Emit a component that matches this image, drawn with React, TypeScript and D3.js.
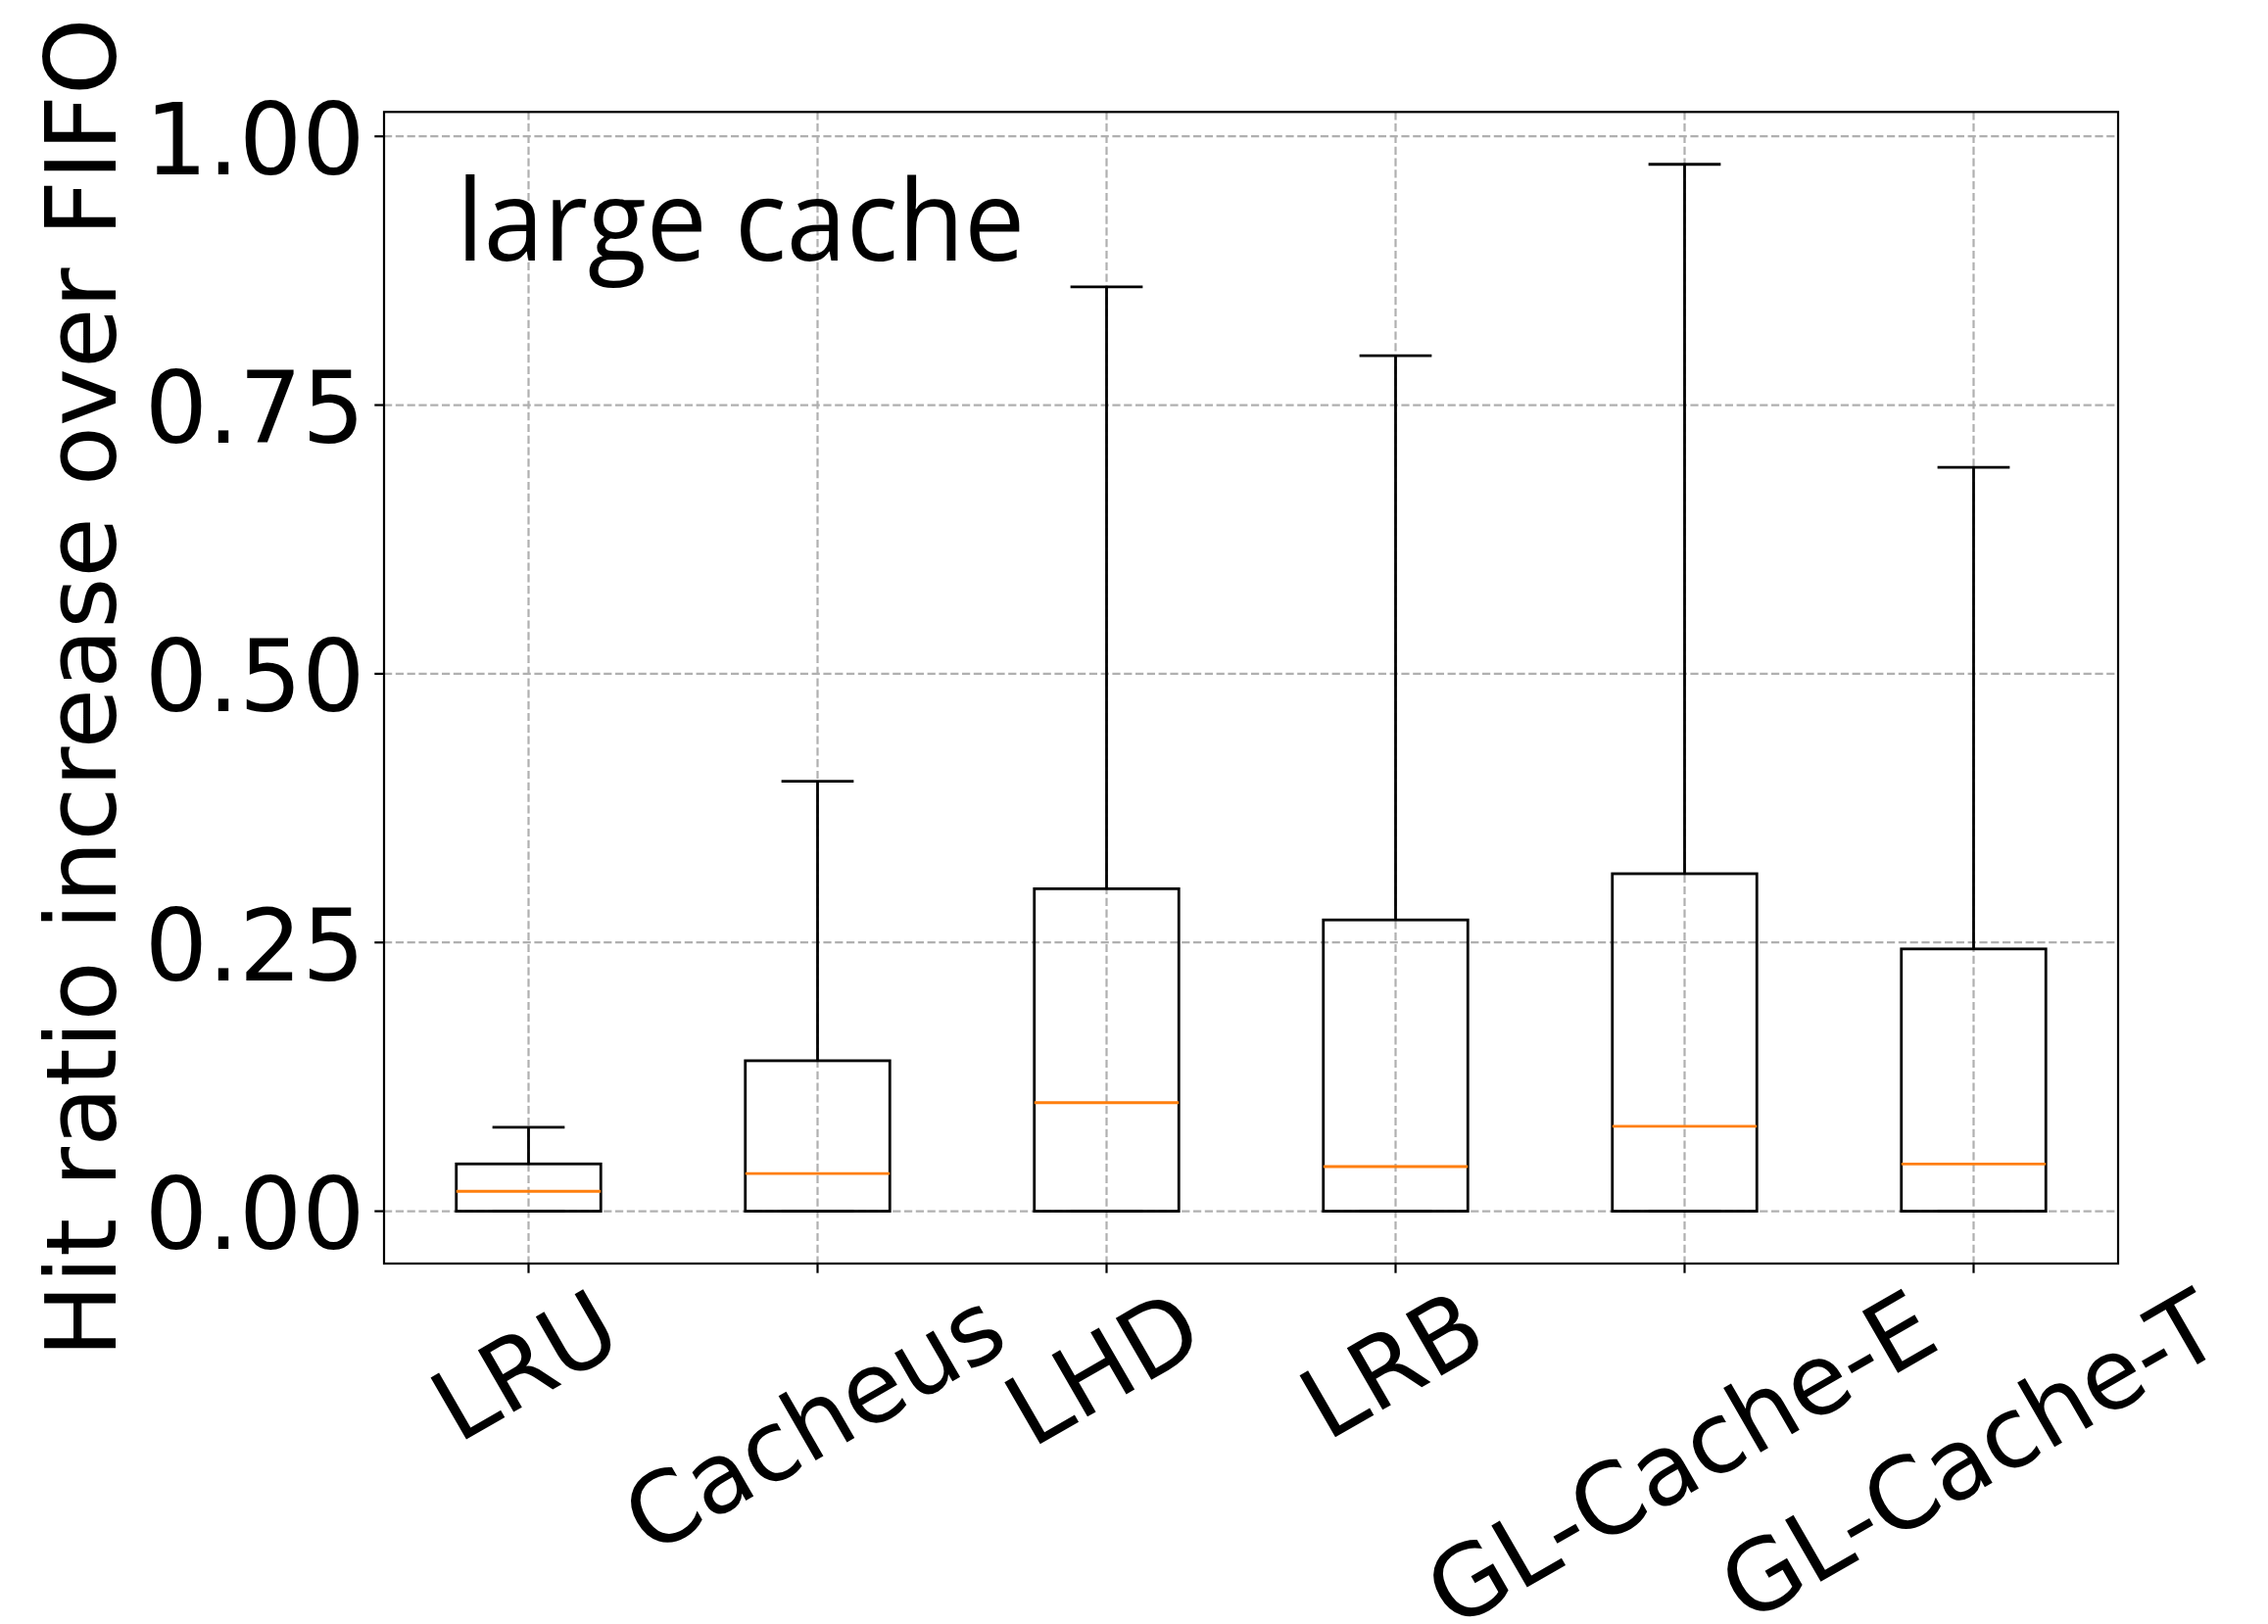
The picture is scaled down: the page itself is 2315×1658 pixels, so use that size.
import React, { useEffect, useRef } from "react";
import * as d3 from "d3";

const categories = ["LRU", "Cacheus", "LHD", "LRB", "GL-Cache-E", "GL-Cache-T"];
const whiskerLow = [0, 0, 0, 0, 0, 0];
const q1 = [0, 0, 0, 0, 0, 0];
const medians = [0.0185, 0.035, 0.101, 0.0415, 0.079, 0.044];
const q3 = [0.044, 0.14, 0.3, 0.271, 0.314, 0.244];
const whiskerHigh = [0.078, 0.4, 0.86, 0.796, 0.974, 0.692];
const yTicks = [0, 0.25, 0.5, 0.75, 1.0];
const yLabel = "Hit ratio increase over FIFO";
const annotation = "large cache";

const W = 2315;
const H = 1658;
const PLOT = { left: 392, right: 2162, top: 114.3, bottom: 1290 };
const TICK = 9.7;
const PAD = 9.7;
const FONT = "DejaVu Sans";

export default function App() {
  const ref = useRef<SVGSVGElement>(null);

  useEffect(() => {
    const svg = d3.select(ref.current);
    svg.selectAll("*").remove();

    const x = d3.scaleLinear().domain([0.5, categories.length + 0.5]).range([PLOT.left, PLOT.right]);
    const ymax = d3.max(whiskerHigh) as number;
    const ymin = d3.min(whiskerLow) as number;
    const m = 0.05 * (ymax - ymin);
    const y = d3.scaleLinear().domain([ymin - m, ymax + m]).range([PLOT.bottom, PLOT.top]);

    svg.append("rect").attr("width", W).attr("height", H).attr("fill", "white");

    // grid
    const grid = svg.append("g").attr("stroke", "#b0b0b0").attr("stroke-width", 2.2).attr("stroke-dasharray", "8.2,3.6");
    yTicks.forEach((t) => {
      grid.append("line").attr("x1", PLOT.left).attr("x2", PLOT.right).attr("y1", y(t)).attr("y2", y(t));
    });
    categories.forEach((_, i) => {
      grid.append("line").attr("x1", x(i + 1)).attr("x2", x(i + 1)).attr("y1", PLOT.top).attr("y2", PLOT.bottom);
    });

    // boxes
    const bw = x(1.25) - x(1);
    const cw = x(1.125) - x(1);
    const boxes = svg.append("g");
    categories.forEach((_, i) => {
      const cx = x(i + 1);
      const line = (x1: number, y1: number, x2: number, y2: number, color = "black") =>
        boxes.append("line").attr("x1", x1).attr("y1", y1).attr("x2", x2).attr("y2", y2)
          .attr("stroke", color).attr("stroke-width", 2.8).attr("stroke-linecap", "butt");
      line(cx, y(q1[i]), cx, y(whiskerLow[i]));
      line(cx, y(q3[i]), cx, y(whiskerHigh[i]));
      line(cx - cw, y(whiskerLow[i]), cx + cw, y(whiskerLow[i]));
      line(cx - cw, y(whiskerHigh[i]), cx + cw, y(whiskerHigh[i]));
      boxes.append("rect")
        .attr("x", cx - bw).attr("width", 2 * bw)
        .attr("y", y(q3[i])).attr("height", y(q1[i]) - y(q3[i]))
        .attr("fill", "none").attr("stroke", "black").attr("stroke-width", 2.8);
      line(cx - bw, y(medians[i]), cx + bw, y(medians[i]), "#ff7f0e");
    });

    // spines
    svg.append("rect")
      .attr("x", PLOT.left).attr("y", PLOT.top)
      .attr("width", PLOT.right - PLOT.left).attr("height", PLOT.bottom - PLOT.top)
      .attr("fill", "none").attr("stroke", "black").attr("stroke-width", 2.2);

    // y ticks
    const yfs = 101;
    yTicks.forEach((t) => {
      svg.append("line").attr("x1", PLOT.left - TICK).attr("x2", PLOT.left).attr("y1", y(t)).attr("y2", y(t))
        .attr("stroke", "black").attr("stroke-width", 2.2);
      svg.append("text")
        .attr("x", PLOT.left - TICK - PAD)
        .attr("y", y(t) + 0.3645 * yfs + 1.5)
        .attr("text-anchor", "end")
        .attr("font-family", FONT)
        .attr("font-size", yfs)
        .attr("fill", "black")
        .text(d3.format(".2f")(t));
    });

    // x ticks and labels
    const fs = 100;
    categories.forEach((c, i) => {
      const cx = x(i + 1);
      svg.append("line").attr("x1", cx).attr("x2", cx).attr("y1", PLOT.bottom).attr("y2", PLOT.bottom + TICK)
        .attr("stroke", "black").attr("stroke-width", 2.2);
      const t = svg.append("text")
        .attr("font-family", FONT)
        .attr("font-size", fs)
        .attr("fill", "black")
        .attr("text-anchor", "middle")
        .text(c);
      const w = (t.node() as SVGTextElement).getComputedTextLength();
      const h = 0.968 * fs;
      const bh = w * Math.sin(Math.PI / 6) + h * Math.cos(Math.PI / 6);
      const cy = PLOT.bottom + TICK + PAD + bh / 2;
      t.attr("y", 0.276 * fs).attr("transform", `translate(${cx},${cy}) rotate(-30)`);
    });

    // y label
    svg.append("text")
      .attr("transform", `translate(118,${(PLOT.top + PLOT.bottom) / 2}) rotate(-90)`)
      .attr("text-anchor", "middle")
      .attr("font-family", FONT)
      .attr("font-size", 100)
      .attr("fill", "black")
      .text(yLabel);

    // annotation
    svg.append("text")
      .attr("x", 466)
      .attr("y", 266)
      .attr("font-family", "Open Sans")
      .attr("font-size", 116)
      .attr("textLength", 580)
      .attr("lengthAdjust", "spacingAndGlyphs")
      .attr("fill", "black")
      .text(annotation);
  }, []);

  return (
    <svg
      ref={ref}
      width={W}
      height={H}
      style={{ position: "absolute", left: 0, top: 0, display: "block" }}
    />
  );
}
